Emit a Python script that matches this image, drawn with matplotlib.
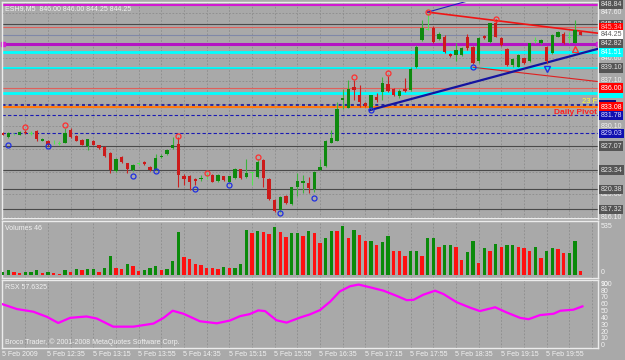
import matplotlib.pyplot as plt

# 5 minute ES bars, index 0 = first bar on screen
opens = [829.0, 828.5, 828.95, 828.8, 829.2, 828.95, 829.4, 827.9, 827.9, 827.65,
         827.45, 827.6, 829.6, 828.6, 828.0, 827.1, 827.9, 827.2, 826.9, 826.0,
         823.2, 825.4, 824.4, 823.4, 824.35, 824.65, 823.9, 823.4, 825.3, 825.85,
         826.7, 827.4, 822.45, 822.45, 821.95, 821.93, 822.4, 822.6, 821.7, 822.45,
         821.6, 822.1, 823.5, 822.35, 822.9, 822.35, 824.9, 822.0, 818.75, 817.2,
         819.35, 818.15, 820.7, 821.3, 821.4, 820.4, 823.4, 824.0, 827.6, 827.9,
         834.2, 833.0, 836.1, 834.9, 833.65, 833.0, 834.65, 835.4, 836.6, 835.8,
         834.7, 835.8, 835.7, 839.3, 843.4, 845.0, 845.2, 843.5, 843.9, 841.25,
         841.1, 841.1, 843.9, 842.4, 840.1, 844.0, 843.15, 846.0, 843.65, 841.95,
         839.6, 839.3, 840.6, 840.1, 843.3, 842.9, 842.4, 841.35, 843.9, 844.4,
         843.7, 843.0, 844.7]
highs = [829.2, 829.2, 829.1, 829.4, 829.6, 829.4, 829.6, 828.3, 828.0, 828.0,
         827.8, 829.9, 829.8, 828.8, 828.1, 828.2, 828.0, 827.3, 827.0, 826.1,
         825.2, 825.6, 824.5, 824.3, 824.6, 824.7, 824.0, 825.9, 825.8, 826.6,
         828.4, 828.5, 822.8, 822.6, 822.1, 822.6, 822.9, 822.7, 822.7, 822.5,
         822.5, 823.7, 823.6, 825.1, 823.1, 825.1, 825.0, 822.1, 818.9, 819.3,
         819.5, 820.8, 822.85, 822.6, 822.35, 823.2, 825.0, 828.0, 829.5, 833.9,
         835.8, 837.2, 837.3, 836.5, 833.8, 835.0, 835.2, 837.75, 837.9, 836.0,
         835.8, 837.5, 839.2, 842.6, 846.5, 847.5, 845.5, 844.6, 844.1, 841.4,
         842.9, 842.3, 844.4, 842.5, 843.8, 844.2, 846.1, 846.6, 843.8, 842.1,
         840.6, 841.2, 840.7, 843.0, 843.8, 843.5, 842.5, 844.3, 844.8, 844.6,
         844.7, 846.5, 844.8]
lows = [828.7, 828.3, 828.7, 828.7, 828.9, 828.7, 827.9, 827.8, 827.1, 827.4,
        827.3, 827.5, 828.3, 827.8, 827.2, 826.4, 827.2, 826.6, 825.4, 822.9,
        823.0, 824.5, 822.9, 823.2, 824.2, 824.1, 823.2, 823.3, 825.2, 825.7,
        826.6, 820.8, 821.1, 820.3, 821.0, 821.7, 822.0, 821.5, 821.6, 821.7,
        821.3, 822.0, 822.0, 822.2, 821.0, 822.2, 820.8, 818.7, 816.9, 816.9,
        818.2, 818.0, 819.3, 819.9, 819.8, 820.0, 823.3, 823.9, 827.5, 827.8,
        832.8, 832.9, 834.2, 833.1, 833.1, 832.8, 833.9, 834.16, 835.4, 834.8,
        834.5, 835.4, 835.5, 839.1, 843.2, 844.9, 843.0, 843.4, 841.4, 840.8,
        840.1, 841.0, 841.9, 839.7, 839.9, 843.5, 843.0, 843.8, 842.5, 839.4,
        839.3, 839.2, 839.7, 840.0, 842.9, 842.8, 839.9, 841.2, 843.8, 842.8,
        842.9, 842.9, 844.1]
closes = [828.8, 829.0, 828.85, 829.3, 829.0, 829.05, 828.1, 828.1, 827.3, 827.75,
          827.55, 829.1, 828.4, 827.9, 827.3, 828.1, 827.3, 826.7, 825.5, 823.4,
          825.1, 824.6, 823.6, 824.1, 824.45, 824.25, 823.3, 825.2, 825.6, 826.45,
          827.2, 822.6, 822.05, 821.6, 821.75, 822.14, 822.5, 821.6, 822.6, 821.85,
          822.45, 823.6, 822.1, 822.85, 823.0, 824.65, 822.1, 818.85, 817.1, 819.15,
          818.35, 820.7, 821.7, 821.7, 820.6, 823.1, 823.9, 827.9, 828.25, 832.8,
          834.4, 835.8, 835.7, 833.9, 833.25, 834.9, 834.15, 836.8, 835.6, 834.9,
          835.6, 835.6, 839.0, 842.4, 845.2, 845.1, 843.1, 844.4, 841.6, 840.95,
          841.85, 842.1, 842.1, 839.9, 843.65, 843.7, 845.95, 843.9, 842.65, 839.55,
          840.5, 841.1, 839.8, 842.9, 843.35, 843.4, 840.1, 844.2, 844.7, 842.9,
          843.8, 844.9, 844.25]

volumes = [28, 53, 35, 24, 32, 32, 49, 21, 32, 17, 11, 53, 32, 64, 56, 64, 64, 32, 77, 210,
           77, 64, 116, 102, 42, 56, 77, 98, 49, 70, 158, 474, 200, 176, 123, 105, 77, 77, 70, 92,
           81, 81, 123, 488, 456, 478, 474, 446, 520, 474, 415, 456, 460, 428, 482, 456,
           351, 407, 482, 482, 535, 407, 495, 439, 366, 369, 323, 358, 422, 267, 267, 210,
           267, 267, 207, 407, 407, 302, 323, 323, 309, 161, 253, 369, 130, 295, 260, 334,
           309, 323, 323, 302, 295, 260, 302, 190, 260, 295, 288, 235, 242, 369, 46]
vol_up = ("ggrrgggrgrrgrgrggrggrrgrrgggrgggrrrrrrrgrgggrgrrgrrggrgr"
          "rggrgrgrrgrggrrrggrggrggrrggrgrgrggrrrgrggrrggr")

rsx_bar = [0, 2.5, 5.4, 7.8, 9.8, 11.9, 14.8, 16.6, 19.5, 23.1, 26.6, 28.4, 30.0, 31.9,
           34.8, 37.8, 40.1, 41.9, 43.6, 45.1, 46.3, 48.3, 50.1, 52.5, 54.2, 56.0,
           57.8, 59.5, 61.3, 62.8, 64.8, 67.2, 69.5, 71.3, 72.5, 74.2, 76.3, 77.8,
           80.1, 82.5, 84.2, 86.9, 88.9, 91.3, 92.8, 94.8, 97.2, 98.4, 100.7, 102.3]
rsx_val = [60.7, 53.7, 49.8, 42.3, 33.3, 40.8, 42.8, 39.8, 27.9, 27.9, 32.4, 40.8, 51.2, 46.8,
           35.8, 32.8, 36.9, 43.3, 46.3, 51.7, 50.7, 37.3, 33.8, 41.3, 45.8, 52.2,
           64.7, 79.6, 87.1, 89.6, 85.6, 80.6, 73.1, 66.7, 67.2, 74.6, 80.6, 75.6,
           63.7, 55.7, 50.7, 56.3, 48.8, 40.8, 38.8, 44.8, 46.8, 51.2, 52.7, 57.6]

# fractal marks
frac_up_bar = [4, 11, 31, 36, 45, 62, 68, 75, 87]
frac_up_px = [830.05, 830.3, 828.6, 822.96, 825.4, 837.75, 838.3, 847.7, 846.6]
frac_dn_bar = [1, 8, 23, 27, 34, 40, 49, 55, 65, 83]
frac_dn_px = [827.27, 827.07, 822.5, 823.27, 820.5, 821.0, 816.7, 819.06, 832.6, 839.3]

# trend lines (bar, price) end points
support_bar, support_px = [64.8, 105.05], [832.6, 842.05]
resist_bar, resist_px = [75, 105.05], [847.7, 844.45]
upper_bar, upper_px = [75, 82], [847.7, 849.4]
lower_bar, lower_px = [83, 105.05], [839.2, 837.0]

# horizontal levels
magenta_levels = [848.84, 842.82]
cyan_levels = [841.51, 835.2]
gray_levels = [845.83, 839.10, 827.07, 823.34, 820.38, 817.32]
salmon_levels = [845.34, 836.00]
blue_dash_levels = [831.78, 829.03]
bid_level = 844.25
fib_level = 833.45
pivot_level = 833.08
grid_prices = [816.10, 819.60, 823.10, 826.60, 830.10, 833.60, 837.10, 840.60, 844.10, 847.60]
# grid prices whose scale label is visible (others sit under level boxes)
grid_labels = [816.10, 819.60, 826.60, 830.10, 837.10, 840.60, 847.60]

time_labels = ["5 Feb 2009", "5 Feb 12:35", "5 Feb 13:15", "5 Feb 13:55", "5 Feb 14:35",
               "5 Feb 15:15", "5 Feb 15:55", "5 Feb 16:35", "5 Feb 17:15", "5 Feb 17:55",
               "5 Feb 18:35", "5 Feb 19:15", "5 Feb 19:55"]

BG = '#a9a9a9'
FRAME = '#ececec'
TXT = '#f2f2f2'
plt.rcParams['font.family'] = ['Liberation Sans', 'DejaVu Sans']

fig = plt.figure(figsize=(6.25, 3.6), dpi=100, facecolor=BG)
L, W = 2 / 625, 596 / 625
ax = fig.add_axes([L, 1 - 218.5 / 360, W, 216.5 / 360])
axv = fig.add_axes([L, 1 - 278 / 360, W, 57 / 360])
axr = fig.add_axes([L, 1 - 348 / 360, W, 68.5 / 360])

n = len(opens)
for a in (ax, axv, axr):
    a.set_facecolor(BG)
    a.set_xlim(-0.12, 105.05)
    a.set_xticks([])
    a.set_yticks([])
    for s in a.spines.values():
        s.set_color(FRAME)
        s.set_linewidth(1)
    for gx in range(4, 106, 4):
        a.axvline(gx, color='#8c8c8c', lw=0.6, ls=(0, (2, 2)), zorder=0)

ax.set_ylim(815.9, 849.26)
for gp in grid_prices:
    ax.axhline(gp, color='#8c8c8c', lw=0.6, ls=(0, (2, 2)), zorder=0)

# levels
for p in gray_levels:
    ax.axhline(p, color='#4a4a4a', lw=0.8, zorder=1)
ax.axhline(839.02, color='#00ffff', lw=1.3, zorder=1)
for p in salmon_levels:
    ax.axhline(p, color='#e0605a', lw=0.8, zorder=1)
ax.axhline(bid_level, color='#8088a8', lw=0.8, zorder=1)
ax.axhline(magenta_levels[0], color='#d21ad2', lw=1.5, zorder=1)
ax.axhline(magenta_levels[1], color='#b414c3', lw=2.2, zorder=1)
for p in cyan_levels:
    ax.axhline(p, color='#00ffff', lw=2, zorder=1)
ax.axhline(fib_level, color='#2a2aa0', lw=2.2, ls=(0, (1, 1)), zorder=1)
ax.axhline(pivot_level, color='#ff7a10', lw=1.5, zorder=1)
for p in blue_dash_levels:
    ax.axhline(p, color='#1a1ab4', lw=0.8, ls=(0, (3, 2)), zorder=1)
ax.plot([0, 105], [magenta_levels[1]] * 2, 's', color='#d020d0', ms=3.5, zorder=2, clip_on=False)

# trend lines
ax.plot(support_bar, support_px, color='#1414a0', lw=1.6, zorder=3)
ax.plot(resist_bar, resist_px, color='#f01414', lw=1.2, zorder=3)
ax.plot(upper_bar, upper_px, color='#2020c0', lw=0.8, zorder=3)
ax.plot(lower_bar, lower_px, color='#e02020', lw=0.8, zorder=2)

# candles
for i in range(n):
    o, h, l, c = opens[i], highs[i], lows[i], closes[i]
    doji = abs(c - o) < 0.12
    if doji:
        col_w = col_b = '#55e055'
    elif c > o:
        col_w, col_b = '#3cb43c', '#0e8a0e'
    else:
        col_w, col_b = '#cc2020', '#cc1a1a'
    ax.vlines(i, l, h, color=col_w, lw=0.8, zorder=4)
    ax.bar(i, max(abs(c - o), 0.07), bottom=min(o, c), width=0.62, color=col_b,
           lw=0, zorder=5)

ax.plot(frac_up_bar, frac_up_px, 'o', mfc='none', mec='#ff3030', ms=3.6, mew=0.9, zorder=6)
ax.plot(frac_dn_bar, frac_dn_px, 'o', mfc='none', mec='#2030e0', ms=3.6, mew=0.9, zorder=6)
ax.plot([96], [838.9], 'v', mfc='none', mec='#2030e0', ms=5, mew=1, zorder=6)
ax.plot([101], [842.0], '^', mfc='none', mec='#ff3030', ms=4, mew=1, zorder=6)

# right price scale
def price_label(p, text, fc=None, tc=TXT):
    box = None if fc is None else dict(boxstyle='square,pad=0.18', fc=fc, ec='none')
    ax.annotate(text, xy=(1, p), xycoords=('axes fraction', 'data'), xytext=(1.8, 0),
                textcoords='offset points', ha='left', va='center', fontsize=5,
                color=tc, bbox=box, annotation_clip=False, zorder=10)

for gp in grid_labels:
    price_label(gp, f"{gp:.2f}")
for p in gray_levels + [magenta_levels[0], magenta_levels[1]]:
    price_label(p, f"{p:.2f}", '#555555', '#e6e6e6')
price_label(salmon_levels[0], f"{salmon_levels[0]:.2f}", '#ff0000', '#ffb0b0')
price_label(bid_level, f"{bid_level:.2f}", '#ffffff', '#606060')
price_label(cyan_levels[0], f"{cyan_levels[0]:.2f}", '#00ffff', '#f0ffff')
price_label(cyan_levels[1], f"{cyan_levels[1]:.2f}", '#00ffff', '#00ffff')
price_label(salmon_levels[1], f"{salmon_levels[1]:.2f}", '#ff0000', '#ffffff')
price_label(fib_level, "       ", '#101080', '#101080')
price_label(pivot_level, f"{pivot_level:.2f}", '#ff0000', '#ffffff')
for p in blue_dash_levels:
    price_label(p, f"{p:.2f}", '#1010b0', '#dcdcff')

ax.text(0.998, pivot_level + 0.25, "23 F", transform=ax.get_yaxis_transform(), ha='right',
        va='bottom', fontsize=5.5, color='#ffff30', zorder=9)
ax.text(0.998, pivot_level - 0.3, "Daily Pivot", transform=ax.get_yaxis_transform(), ha='right',
        va='top', fontsize=6, color='#ff2020', fontweight='bold', zorder=9)
ax.text(0.005, 0.985, "ESH9,M5  846.00 846.00 844.25 844.25", transform=ax.transAxes,
        ha='left', va='top', fontsize=5, color=TXT, zorder=9)

# volumes
axv.set_ylim(-33, 590)
vcols = ['#0a8a0a' if f == 'g' else '#ff1010' for f in vol_up]
axv.bar(range(n), volumes, width=0.6, color=vcols, lw=0, zorder=3)
axv.text(0.005, 0.93, f"Volumes {volumes[-1]}", transform=axv.transAxes, ha='left', va='top',
         fontsize=5, color=TXT)
for v in (535, 0):
    axv.annotate(str(v), xy=(1, v), xycoords=('axes fraction', 'data'), xytext=(2, 2 if v == 0 else 0),
                 textcoords='offset points', ha='left', va='center', fontsize=5, color=TXT,
                 annotation_clip=False)

# RSX
axr.set_ylim(-3.4, 97)
axr.plot(rsx_bar, rsx_val, color='#ff00ff', lw=1.6, zorder=3)
axr.text(0.005, 0.93, "RSX 57.6325", transform=axr.transAxes, ha='left', va='top',
         fontsize=5, color=TXT)
axr.text(0.005, 0.03, "Broco Trader, \u00a9 2001-2008 MetaQuotes Software Corp.",
         transform=axr.transAxes, ha='left', va='bottom', fontsize=5, color=TXT)
for v in range(0, 100, 10):
    axr.annotate(str(v), xy=(1, v), xycoords=('axes fraction', 'data'), xytext=(2, 0),
                 textcoords='offset points', ha='left', va='center', fontsize=5, color=TXT,
                 annotation_clip=False)
axr.annotate("100", xy=(1, 1), xycoords='axes fraction', xytext=(2, -1),
             textcoords='offset points', ha='left', va='top', fontsize=5, color=TXT,
             annotation_clip=False)

for k, lab in enumerate(time_labels):
    axr.annotate(lab, xy=(8 * k, 0), xycoords=('data', 'axes fraction'), xytext=(-0.5, -2.5),
                 textcoords='offset points', ha='left', va='top', fontsize=5, color=TXT,
                 annotation_clip=False)

fig.savefig('out.png', dpi=100, facecolor=BG)
